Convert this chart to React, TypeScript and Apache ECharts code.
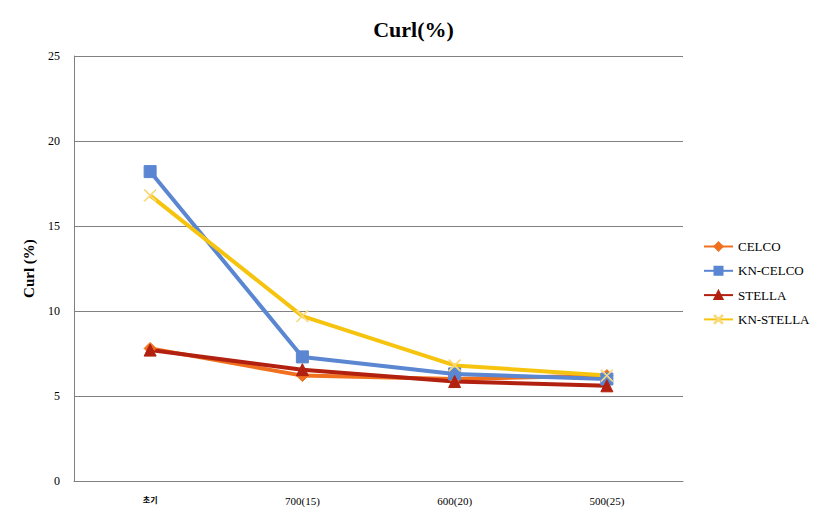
import React, { useEffect, useRef } from "react";
import * as echarts from "echarts";

const categories = ["초기", "700(15)", "600(20)", "500(25)"];
const celco = [7.8, 6.2, 6.0, 6.2];
const knCelco = [18.2, 7.3, 6.3, 6.0];
const stella = [7.7, 6.55, 5.85, 5.6];
const knStella = [16.8, 9.7, 6.8, 6.2];

const SERIF = "'Liberation Serif', 'DejaVu Serif', serif";
const crossPath =
  "path://M0,0.6L0.6,0L5,4.4L9.4,0L10,0.6L5.6,5L10,9.4L9.4,10L5,5.6L0.6,10L0,9.4L4.4,5Z";

export default function App() {
  const ref = useRef<HTMLDivElement>(null);
  useEffect(() => {
    if (!ref.current) return;
    const chart = echarts.init(ref.current, undefined, { renderer: "svg" });
    const mk = (name: string, data: number[], color: string, symbol: string, size: number, sym?: string) => ({
      name,
      type: "line",
      data,
      symbol,
      symbolSize: size,
      showSymbol: true,
      lineStyle: { width: 4, color },
      itemStyle: { color: sym || color, borderColor: sym || color, borderWidth: 1 },
      emphasis: { disabled: true },
    });
    chart.setOption({
      animation: false,
      backgroundColor: "#ffffff",
      title: {
        text: "Curl(%)",
        left: "center",
        top: 13,
        textStyle: { fontFamily: SERIF, fontSize: 22, fontWeight: "bold", color: "#000" },
      },
      legend: {
        orient: "vertical",
        left: 698,
        top: 235,
        itemGap: 11.3,
        itemWidth: 29,
        itemHeight: 10,
        textStyle: { fontFamily: SERIF, fontSize: 13, color: "#000" },
        data: ["CELCO", "KN-CELCO", "STELLA", "KN-STELLA"],
      },
      grid: { left: 74, right: 144, top: 56, bottom: 46 },
      xAxis: {
        type: "category",
        data: categories,
        boundaryGap: true,
        axisLine: { lineStyle: { color: "#808080", width: 1 } },
        axisTick: { show: false },
        axisLabel: {
          margin: 14,
          color: "#000",
          fontSize: 11,
          fontFamily: SERIF,
          formatter: (v: string) => (v === "초기" ? "{k|" + v + "}" : v),
          rich: { k: { fontFamily: "'Noto Sans CJK KR', sans-serif", fontSize: 8, fontWeight: "bold", color: "#000" } },
        },
      },
      yAxis: {
        type: "value",
        min: 0,
        max: 25,
        interval: 5,
        name: "Curl (%)",
        nameLocation: "middle",
        nameGap: 38,
        nameTextStyle: { fontFamily: SERIF, fontSize: 15, fontWeight: "bold", color: "#000" },
        axisLine: { show: true, lineStyle: { color: "#808080", width: 1 } },
        axisTick: { show: false },
        axisLabel: { color: "#000", fontSize: 12, fontFamily: SERIF, margin: 14 },
        splitLine: { lineStyle: { color: "#808080", width: 1 } },
      },
      series: [
        mk("CELCO", celco, "#F0701E", "diamond", 12),
        mk("KN-CELCO", knCelco, "#5A86D2", "rect", 12),
        mk("STELLA", stella, "#B2200F", "triangle", 12),
        mk("KN-STELLA", knStella, "#F6C40E", crossPath, 12, "#F9DA7A"),
      ],
    });
    return () => chart.dispose();
  }, []);
  return (
    <div
      ref={ref}
      style={{ position: "fixed", left: 0, top: 0, width: 827, height: 527 }}
    />
  );
}
